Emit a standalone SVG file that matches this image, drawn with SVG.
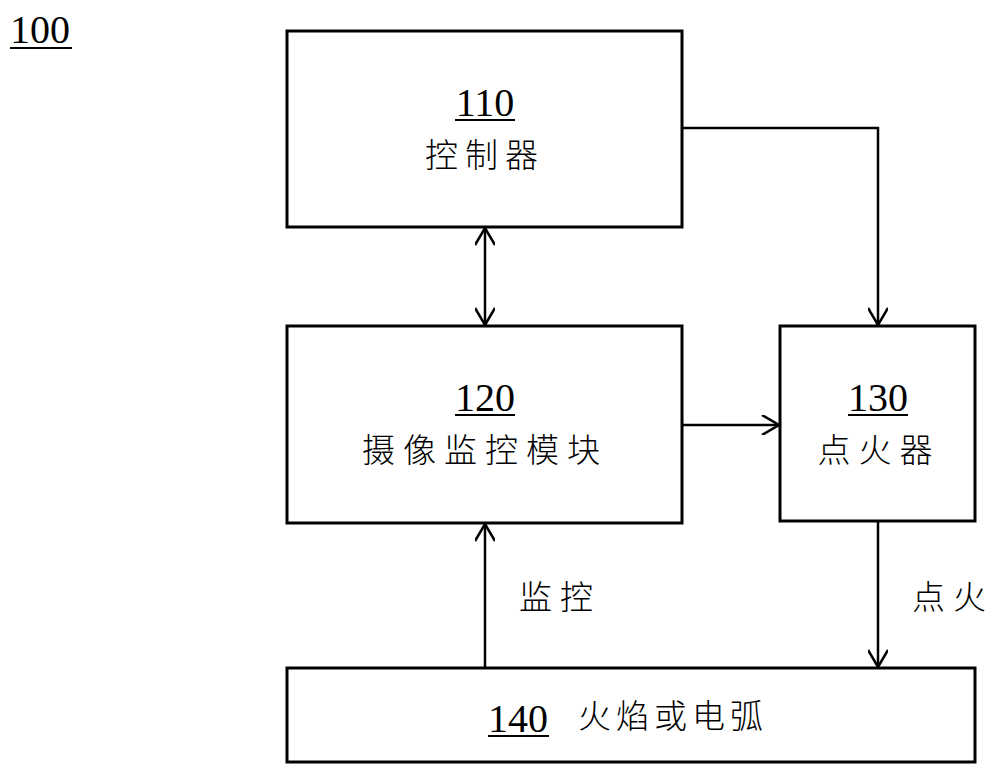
<svg xmlns="http://www.w3.org/2000/svg" width="1000" height="770" viewBox="0 0 1000 770">
<style>
.box{fill:#fff;stroke:#000;stroke-width:3}
.num{font-family:"Liberation Serif","Times New Roman",serif;font-size:40px;fill:#000}
.cjk{font-family:"Noto Sans CJK SC","Noto Sans CJK TC",sans-serif;font-size:33px;fill:#000;font-weight:300}
.ul{stroke:#000;stroke-width:2}
.conn{fill:none;stroke:#000;stroke-width:2.5}
</style>
<defs>
<marker id="arr" viewBox="0 0 20 20" refX="20" refY="10" markerWidth="20" markerHeight="20" markerUnits="userSpaceOnUse" orient="auto-start-reverse">
<path d="M3,0 L20,10 L3,20" fill="none" stroke="#000" stroke-width="2.5"/>
</marker>
</defs>
<rect width="1000" height="770" fill="#fff"/>
<g id="label100">
<text class="num" x="10" y="43">100</text>
<line class="ul" x1="10" y1="48" x2="72" y2="48"/>
</g>
<g id="node110">
<rect class="box" x="287" y="31" width="395" height="196"/>
<text class="num" x="485" y="116" text-anchor="middle">110</text>
<line class="ul" x1="455" y1="120" x2="515" y2="120"/>
<text class="cjk" x="485" y="167" text-anchor="middle" letter-spacing="7">控制器</text>
</g>
<g id="node120">
<rect class="box" x="287" y="326" width="395" height="197"/>
<text class="num" x="485" y="411" text-anchor="middle">120</text>
<line class="ul" x1="455" y1="415" x2="515" y2="415"/>
<text class="cjk" x="485" y="462" text-anchor="middle" letter-spacing="8">摄像监控模块</text>
</g>
<g id="node130">
<rect class="box" x="780" y="326" width="195" height="195"/>
<text class="num" x="878" y="411" text-anchor="middle">130</text>
<line class="ul" x1="848" y1="415" x2="908" y2="415"/>
<text class="cjk" x="879" y="462" text-anchor="middle" letter-spacing="8">点火器</text>
</g>
<g id="node140">
<rect class="box" x="287" y="668" width="688" height="94"/>
<text class="num" x="488" y="732">140</text>
<line class="ul" x1="488" y1="736" x2="549" y2="736"/>
<text class="cjk" x="578" y="728" letter-spacing="5">火焰或电弧</text>
</g>
<g id="connectors">
<line class="conn" x1="485" y1="228" x2="485" y2="325" marker-start="url(#arr)" marker-end="url(#arr)"/>
<polyline class="conn" points="682,128 878,128 878,325" marker-end="url(#arr)"/>
<line class="conn" x1="682" y1="425" x2="779" y2="425" marker-end="url(#arr)"/>
<line class="conn" x1="878" y1="521" x2="878" y2="667" marker-end="url(#arr)"/>
<line class="conn" x1="485" y1="668" x2="485" y2="524" marker-end="url(#arr)"/>
</g>
<g id="edge-labels">
<text class="cjk" x="519" y="609" letter-spacing="8">监控</text>
<text class="cjk" x="912" y="609" letter-spacing="8">点火</text>
</g>
</svg>
